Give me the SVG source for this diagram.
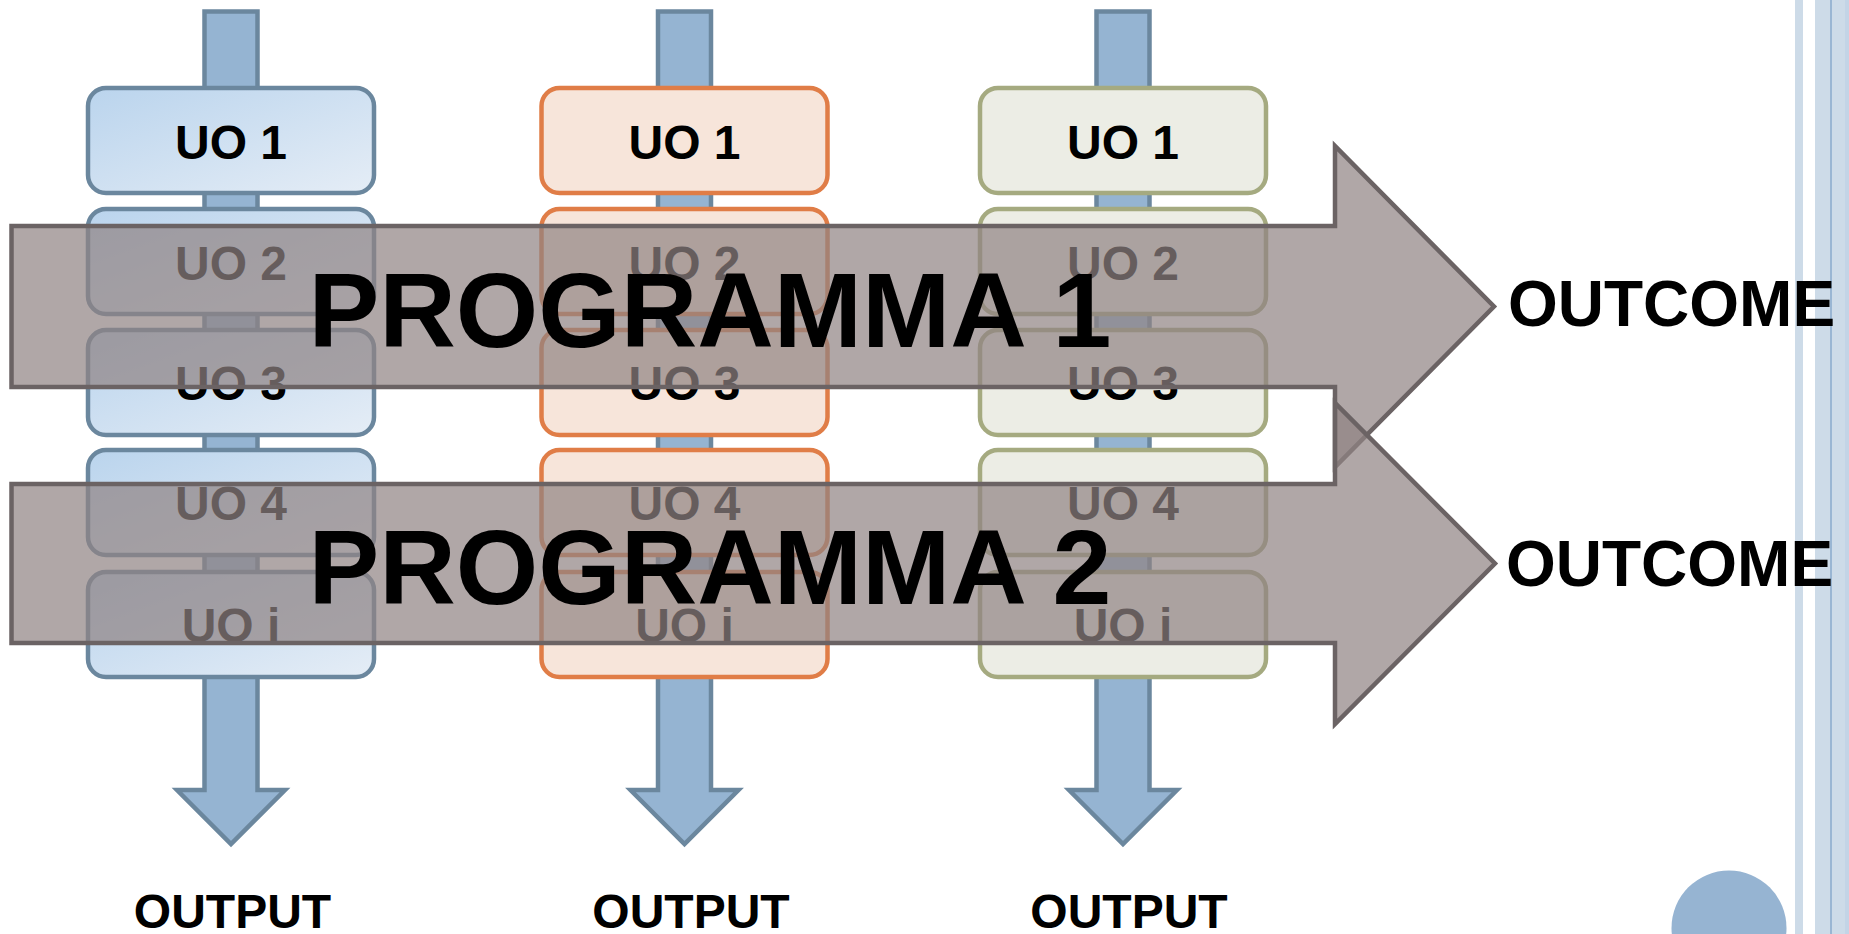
<svg xmlns="http://www.w3.org/2000/svg" width="1849" height="934" viewBox="0 0 1849 934">
<defs>
<linearGradient id="gBlue" x1="0" y1="0" x2="1" y2="1">
<stop offset="0" stop-color="#bad4ed"/>
<stop offset="1" stop-color="#e5edf6"/>
</linearGradient>
<style>
.bar{fill:#95b4d2;stroke:#6b879e;stroke-width:4.5;stroke-linejoin:miter}
.uo{stroke-width:4.5}
.blue{fill:url(#gBlue);stroke:#6b879e}
.orange{fill:#f7e5da;stroke:#e07d47}
.green{fill:#ecede5;stroke:#a5aa80}
.t{font-family:"Liberation Sans",Arial,sans-serif;font-weight:bold;fill:#000}
.uot{font-size:48px;text-anchor:middle}
.out{font-size:48px;text-anchor:middle}
.prog{fill:#908383;fill-opacity:0.71;stroke:#6b6364;stroke-width:4.5;stroke-linejoin:miter}
.pt{font-size:106px}
.oc{font-size:64px}
.deco{fill:#cddbe8}
</style>
</defs>
<rect width="1849" height="934" fill="#fff"/>
<g id="decoration">
<rect class="deco" x="1795" y="0" width="8" height="934"/>
<rect class="deco" x="1815" y="0" width="34" height="934"/>
<rect x="1830" y="0" width="2" height="934" fill="#9ab6d3"/>
<rect x="1845" y="0" width="4" height="934" fill="#c3d4e6"/>
<circle cx="1729" cy="928" r="57.5" fill="#96b4d2"/>
</g>
<g id="connectors">
<path class="bar" d="M204.5,11.5 H257.5 V790 H285 L231,844 L177,790 H204.5 Z"/>
<path class="bar" d="M658,11.5 H711 V790 H738.5 L684.5,844 L630.5,790 H658 Z"/>
<path class="bar" d="M1096.5,11.5 H1149.5 V790 H1177 L1123,844 L1069,790 H1096.5 Z"/>
</g>
<g id="col1">
<g id="c1-uo1"><rect class="uo blue" x="88" y="88" width="286" height="105" rx="18"/><text class="t uot" x="231" y="159">UO 1</text></g>
<g id="c1-uo2"><rect class="uo blue" x="88" y="209" width="286" height="105" rx="18"/><text class="t uot" x="231" y="280">UO 2</text></g>
<g id="c1-uo3"><rect class="uo blue" x="88" y="330" width="286" height="105" rx="18"/><text class="t uot" x="231" y="400">UO 3</text></g>
<g id="c1-uo4"><rect class="uo blue" x="88" y="450" width="286" height="105" rx="18"/><text class="t uot" x="231" y="520">UO 4</text></g>
<g id="c1-uoi"><rect class="uo blue" x="88" y="572" width="286" height="105" rx="18"/><text class="t uot" x="231" y="642">UO i</text></g>
<g id="c1-output"><text class="t out" x="232.5" y="928">OUTPUT</text></g>
</g>
<g id="col2">
<g id="c2-uo1"><rect class="uo orange" x="541.5" y="88" width="286" height="105" rx="18"/><text class="t uot" x="684.5" y="159">UO 1</text></g>
<g id="c2-uo2"><rect class="uo orange" x="541.5" y="209" width="286" height="105" rx="18"/><text class="t uot" x="684.5" y="280">UO 2</text></g>
<g id="c2-uo3"><rect class="uo orange" x="541.5" y="330" width="286" height="105" rx="18"/><text class="t uot" x="684.5" y="400">UO 3</text></g>
<g id="c2-uo4"><rect class="uo orange" x="541.5" y="450" width="286" height="105" rx="18"/><text class="t uot" x="684.5" y="520">UO 4</text></g>
<g id="c2-uoi"><rect class="uo orange" x="541.5" y="572" width="286" height="105" rx="18"/><text class="t uot" x="684.5" y="642">UO i</text></g>
<g id="c2-output"><text class="t out" x="691" y="928">OUTPUT</text></g>
</g>
<g id="col3">
<g id="c3-uo1"><rect class="uo green" x="980" y="88" width="286" height="105" rx="18"/><text class="t uot" x="1123" y="159">UO 1</text></g>
<g id="c3-uo2"><rect class="uo green" x="980" y="209" width="286" height="105" rx="18"/><text class="t uot" x="1123" y="280">UO 2</text></g>
<g id="c3-uo3"><rect class="uo green" x="980" y="330" width="286" height="105" rx="18"/><text class="t uot" x="1123" y="400">UO 3</text></g>
<g id="c3-uo4"><rect class="uo green" x="980" y="450" width="286" height="105" rx="18"/><text class="t uot" x="1123" y="520">UO 4</text></g>
<g id="c3-uoi"><rect class="uo green" x="980" y="572" width="286" height="105" rx="18"/><text class="t uot" x="1123" y="642">UO i</text></g>
<g id="c3-output"><text class="t out" x="1129" y="928">OUTPUT</text></g>
</g>
<g id="programma1">
<path class="prog" d="M11.5,226 H1335 V146 L1494,306.5 L1335,467 V387 H11.5 Z"/>
<text class="t pt" x="308.5" y="347">PROGRAMMA 1</text>
</g>
<g id="programma2">
<path class="prog" d="M11.5,484 H1335 V403 L1495,563.5 L1335,724 V643 H11.5 Z"/>
<text class="t pt" x="308.5" y="604">PROGRAMMA 2</text>
</g>
<g id="outcome1"><text class="t oc" x="1508" y="326">OUTCOME</text></g>
<g id="outcome2"><text class="t oc" x="1506" y="586">OUTCOME</text></g>
</svg>
